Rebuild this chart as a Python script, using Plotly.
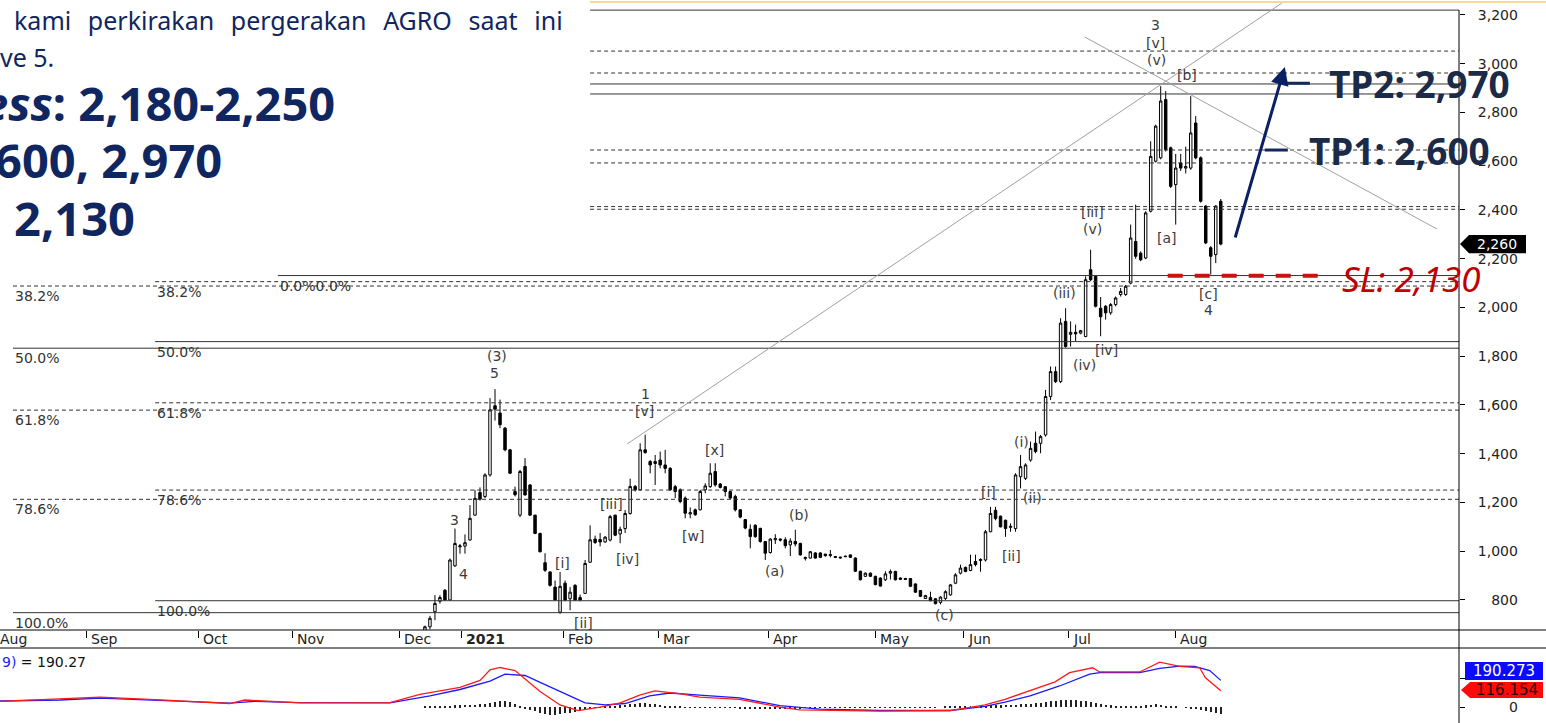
import plotly.graph_objects as go

# ---------------- data ----------------
# trading-day index (0 = first visible candle, early Dec 2020)
opens = [650,690,752,795,840,800,940,1018,1021,1046,1148,1241,1224,1313,1597,1567,1505,1416,1245,1148,
         1348,1272,1148,1073,953,915,853,750,869,805,860,810,827,955,1050,1048,1038,1046,1148,1071,
         1093,1155,1266,1252,1416,1368,1360,1374,1354,1340,1265,1252,1218,1153,1170,1170,1252,1265,1327,1276,
         1265,1245,1225,1170,1130,1090,1107,1094,1040,995,1047,1050,1047,1026,1040,1032,970,972,993,993,
         988,982,978,976,980,985,972,918,897,910,897,890,883,910,917,890,888,888,866,839,
         806,810,805,790,806,821,869,910,934,921,958,962,964,1080,1168,1144,1127,1098,1093,1306,
         1299,1374,1443,1443,1477,1635,1737,1696,1943,1890,1898,1895,1881,2155,2128,1997,2005,1978,2012,2053,
         2053,2100,2271,2223,2203,2395,2600,2614,2853,2655,2504,2593,2572,2572,2757,2614,2416,2245,2217,2436]
highs = [695,735,820,820,845,970,1093,1030,1069,1189,1252,1262,1320,1628,1665,1622,1510,1420,1265,1334,
         1382,1275,1150,1076,992,918,880,915,880,853,865,822,964,1106,1064,1075,1062,1149,1150,1101,
         1169,1298,1272,1443,1478,1374,1395,1409,1416,1345,1272,1258,1225,1180,1175,1252,1279,1361,1361,1280,
         1267,1248,1232,1172,1132,1110,1110,1096,1042,1053,1070,1053,1057,1053,1088,1035,978,1001,996,996,
         990,1005,981,978,982,987,975,920,913,913,900,893,918,925,920,893,891,890,868,841,
         821,834,808,815,840,866,910,945,937,986,986,971,1087,1182,1182,1146,1130,1114,1320,1395,
         1361,1450,1491,1477,1662,1758,1758,1956,1997,1943,1930,1908,2128,2237,2132,2043,2010,2018,2045,2080,
         2092,2340,2422,2230,2395,2682,2750,2908,2888,2660,2630,2630,2660,2867,2785,2620,2420,2252,2420,2445]
lows = [640,680,717,785,798,798,936,990,990,1044,1146,1208,1218,1306,1536,1505,1410,1318,1225,1140,
        1228,1145,1070,995,915,855,798,743,795,758,797,795,825,953,1030,1020,1035,1040,1062,1033,
        1075,1150,1245,1250,1400,1320,1272,1340,1320,1248,1218,1197,1135,1135,1145,1168,1238,1260,1265,1258,
        1225,1215,1163,1135,1090,1012,1055,1035,964,990,1030,1040,1012,980,1020,982,962,970,970,972,
        978,975,973,970,976,972,915,880,895,895,860,855,878,884,880,882,882,853,829,812,
        804,795,782,782,800,818,865,905,914,918,938,916,958,1078,1127,1098,1059,1080,1080,1258,
        1292,1367,1402,1402,1470,1620,1690,1690,1835,1840,1860,1890,1878,2108,2000,1882,1950,1970,2005,2045,
        2048,2095,2200,2190,2198,2390,2595,2608,2640,2490,2340,2560,2550,2565,2608,2430,2260,2135,2182,2255]
closes = [690,725,786,810,800,964,1032,1022,1035,1135,1217,1214,1313,1580,1583,1519,1416,1320,1232,1327,
          1231,1148,1073,998,922,860,800,856,800,832,800,800,950,1047,1036,1038,1058,1142,1066,1090,
          1155,1266,1252,1416,1405,1354,1368,1354,1340,1252,1245,1204,1156,1158,1150,1245,1268,1320,1272,1262,
          1245,1218,1170,1140,1095,1060,1060,1040,992,1050,1052,1046,1023,1042,1030,985,974,998,972,975,
          982,986,975,973,978,975,918,883,910,897,863,857,907,917,883,885,885,856,832,815,
          818,797,785,812,834,862,903,931,917,945,945,966,1080,1155,1134,1100,1093,1102,1313,1347,
          1354,1422,1409,1470,1635,1737,1696,1936,1840,1898,1892,1905,2114,2114,2005,1962,1978,2012,2039,2066,
          2087,2285,2210,2196,2388,2620,2744,2847,2648,2497,2572,2572,2578,2716,2614,2436,2265,2210,2416,2260]
candle_day = list(range(len(closes)))

# MACD lines (sampled turning points) and histogram
macd_blue_day = [-84.9,-72.9,-64.9,-54.9,-39.0,-34.0,-25.0,-7.0,1.0,7.0,13.0,16.0,20.0,24.0,28.0,32.0,36.0,40.0,44.9,48.9,
                 54.9,62.9,70.9,78.9,90.9,104.9,111.9,115.9,120.9,126.8,132.8,134.8,142.8,146.8,150.8,153.8,156.8,159.0]
macd_blue = [43,50,64,50,28,40,32,30,80,125,185,235,225,160,95,30,15,25,80,100,
             85,65,10,-15,-25,-25,5,35,80,150,235,245,245,275,292,290,260,190]
macd_red_day = [-84.9,-72.9,-64.9,-54.9,-39.0,-36.0,-33.0,-25.0,-7.0,-1.0,7.0,11.0,13.0,15.0,18.0,23.0,27.0,30.6,35.0,39.0,
                42.9,45.9,50.9,54.9,62.9,70.9,74.9,90.9,104.9,111.9,115.9,120.9,125.9,128.8,133.4,134.8,142.8,146.8,150.8,154.8,
                155.9,159.0]
macd_red = [40,55,70,55,25,50,45,30,32,90,140,190,265,282,260,110,15,-25,0,30,
            85,115,95,70,55,0,-20,-30,-25,15,55,120,180,245,280,250,250,320,290,280,
            210,116]
macd_hist = [3,4,5,6,8,10,12,14,15,17, 18,20,24,28,34,42,45,35,20,5,
             -10,-20,-30,-40,-48,-55,-55,-50,-45,-40, -35,-28,-20,-12,-6,-2,2,6,10,14,
             18,22,25,27,28,25,20,15,10,6, 3,1,-1,-3,-4,-5,-5,-6,-6,-6,
             -6,-7,-7,-8,-8,-8,-9,-9,-9,-9, -9,-9,-9,-8,-8,-8,-7,-7,-6,-6,
             -5,-5,-5,-4,-4,-4,-4,-3,-3,-3, -3,-3,-3,-3,-2,-2,-2,-2,-2,-2,
             -2,-1,-1,0,1,2,3,4,5,6, 8,9,10,12,13,14,15,16,18,20,
             22,25,28,32,36,40,44,48,50,52, 50,46,42,36,30,25,18,12,8,5,
             3,4,6,10,14,18,20,16,10,6, 3,0,-5,-10,-15,-22,-30,-38,-45,-52]

# axis labels
month_labels = ["Aug","Sep","Oct","Nov","Dec","2021","Feb","Mar","Apr","May","Jun","Jul","Aug"]
month_day = [-85.8,-67.7,-45.3,-26.4,-5.0,7.4,27.6,46.7,68.7,90.1,107.7,128.6,150.0]
price_ticks = [800,1000,1200,1400,1600,1800,2000,2200,2400,2600,2800,3000,3200]

# horizontal levels: value, start day, dashed?
level_values = [3220,3052,2962,2917,2876,2646,2593,2414,2403,2131,2106,2088,1860,1833,1609,1579,1251,1213,797,748]
level_start = [33.0,33.0,33.0,33.0,33.0,33.0,33.0,33.0,33.0,-29.4,-53.9,-82.3,-53.9,-82.3,-53.9,-82.3,-53.9,-82.3,-53.9,-82.3]
level_dashed = [0,1,1,0,0,1,1,1,1,0,1,1,0,0,1,1,1,1,0,0]

# fibonacci labels
fib_text = ["38.2%","38.2%","0.0%0.0%","50.0%","50.0%","61.8%","61.8%","78.6%","78.6%","100.0%","100.0%"]
fib_day = [-82.3,-53.9,-29.4,-82.3,-53.9,-82.3,-53.9,-82.3,-53.9,-82.3,-53.9]
fib_level = [2088,2106,2131,1833,1860,1579,1609,1213,1251,748,797]

# Elliott wave labels
ew_text = ["(3)","5","3","4","[i]","[ii]","[iii]","[iv]","1","[v]","[w]","[x]","(a)","(b)","(c)",
           "[i]","(ii)","[ii]","(i)","(iii)","(iv)","[iv]","[iii]","(v)","3","[v]","(v)","[b]","[a]","[c]","4"]
ew_day = [14.4,13.8,6.0,7.8,27.4,31.6,37.2,40.4,44.1,43.9,53.5,57.9,69.9,74.7,103.9,
          112.5,121.3,117.1,119.1,127.8,131.8,136.2,133.4,133.4,146.0,146.0,146.2,152.2,148.2,156.6,156.6]
ew_price = [1801,1731,1128,907,952,706,1194,968,1645,1575,1063,1415,919,1149,738,
            1243,1218,981,1448,2059,1764,1826,2392,2322,3159,3085,3015,2954,2285,2055,1990]

last_price = 2260
tp1, tp2, sl = 2600, 2970, 2130
macd_val, signal_val = 190.273, 116.154

# ---------------- figure ----------------
W, H = 1546, 723
PLOT_W = 1459
XR = [-84.9, 206.6]
def px(p):  # pixel -> paper x
    return p / PLOT_W
def py(p):  # pixel -> paper y
    return (H - p) / H

NAVY = "#0f2660"
LBL = "#3c3c3c"
SANS = "DejaVu Sans, Verdana"
AXF = dict(family=SANS, size=14, color="#222")

fig = go.Figure()
fig.add_trace(go.Candlestick(
    x=candle_day, open=opens, high=highs, low=lows, close=closes,
    increasing=dict(line=dict(color="black", width=1), fillcolor="white"),
    decreasing=dict(line=dict(color="black", width=1), fillcolor="black"),
    whiskerwidth=0, hoverinfo="skip", xaxis="x", yaxis="y"))

fig.add_trace(go.Bar(x=candle_day, y=macd_hist, width=0.2, marker=dict(color="#222", line=dict(width=0)),
                     xaxis="x2", yaxis="y2", hoverinfo="skip"))
fig.add_trace(go.Scatter(x=macd_blue_day, y=macd_blue, mode="lines", line=dict(color="#1a1aff", width=1.3),
                         xaxis="x2", yaxis="y2", hoverinfo="skip"))
fig.add_trace(go.Scatter(x=macd_red_day, y=macd_red, mode="lines", line=dict(color="#ff1a1a", width=1.3),
                         xaxis="x2", yaxis="y2", hoverinfo="skip"))

shapes = []
# horizontal levels
for v, s, d in zip(level_values, level_start, level_dashed):
    shapes.append(dict(type="line", xref="x", yref="y", x0=s, x1=XR[1], y0=v, y1=v,
                       line=dict(color="#333", width=1, dash="4px,3px" if d else "solid")))
# diagonal trend lines
shapes.append(dict(type="line", xref="x", yref="y", x0=40.4, y0=1440, x1=171.2, y1=3249,
                   line=dict(color="#a0a0a0", width=1)))
shapes.append(dict(type="line", xref="x", yref="y", x0=131.8, y0=3110, x1=202.2, y1=2322,
                   line=dict(color="#a0a0a0", width=1)))
# SL dashed red line
shapes.append(dict(type="line", xref="x", yref="y", x0=148.4, x1=179.8, y0=sl, y1=sl,
                   line=dict(color="#cc1111", width=4, dash="15px,12px")))
# TP ticks
shapes.append(dict(type="line", xref="x", yref="y", x0=172.2, x1=176.8, y0=2920, y1=2920,
                   line=dict(color="#14285a", width=3)))
shapes.append(dict(type="line", xref="x", yref="y", x0=167.8, x1=172.4, y0=2646, y1=2646,
                   line=dict(color="#14285a", width=3)))
# frame lines
shapes.append(dict(type="line", xref="paper", yref="paper", x0=1, x1=1, y0=0, y1=py(10),
                   line=dict(color="black", width=1)))
shapes.append(dict(type="line", xref="paper", yref="paper", x0=0, x1=W / PLOT_W, y0=py(630), y1=py(630),
                   line=dict(color="black", width=1)))
shapes.append(dict(type="line", xref="paper", yref="paper", x0=0, x1=W / PLOT_W, y0=py(648), y1=py(648),
                   line=dict(color="black", width=1)))
shapes.append(dict(type="line", xref="paper", yref="paper", x0=px(590), x1=W / PLOT_W, y0=py(2), y1=py(2),
                   line=dict(color="#f6dc92", width=2)))
# last price tag
shapes.append(dict(type="path", xref="paper", yref="y",
                   path=f"M {px(1460)},{last_price} L {px(1469)},{last_price+37} L {px(1526)},{last_price+37} "
                        f"L {px(1526)},{last_price-37} L {px(1469)},{last_price-37} Z",
                   fillcolor="black", line=dict(width=0)))
# MACD value tags
shapes.append(dict(type="rect", xref="paper", yref="y2", x0=px(1465), x1=px(1543), y0=193, y1=321,
                   fillcolor="#0a0aff", line=dict(width=0)))
shapes.append(dict(type="path", xref="paper", yref="y2",
                   path=f"M {px(1461)},121 L {px(1470)},179 L {px(1543)},179 L {px(1543)},64 L {px(1470)},64 Z",
                   fillcolor="#ff0a0a", line=dict(width=0)))

ann = []
# month labels
for lab, d in zip(month_labels, month_day):
    a = dict(y=py(639), yref="paper", text=("<b>%s</b>" % lab) if lab == "2021" else lab,
             showarrow=False, xanchor="left", yanchor="middle", font=AXF)
    if d < XR[0]:
        a.update(x=0, xref="paper", xshift=-2)
    else:
        a.update(x=d + 0.5, xref="x")
    ann.append(a)
# fib labels
for t, d, v in zip(fib_text, fib_day, fib_level):
    ann.append(dict(x=d, y=v, xref="x", yref="y", text=t, showarrow=False, xanchor="left", yanchor="top",
                    yshift=0, font=dict(family=SANS, size=14, color="#333")))
# wave labels
for t, d, v in zip(ew_text, ew_day, ew_price):
    ann.append(dict(x=d, y=v, xref="x", yref="y", text=t, showarrow=False, xanchor="center", yanchor="middle",
                    font=dict(family=SANS, size=14, color=LBL)))
# arrow
ann.append(dict(x=171.8, y=2987, ax=161.8, ay=2281, xref="x", yref="y", axref="x", ayref="y",
                text="", showarrow=True, arrowhead=2, arrowsize=1.2, arrowwidth=3, arrowcolor="#0b2063"))
# TP / SL texts
ann.append(dict(x=180.2, y=2920, xref="x", yref="y", text="<b>TP2: 2,970</b>", showarrow=False,
                xanchor="left", yanchor="middle", font=dict(family="Noto Sans", size=37, color="#1b2a47")))
ann.append(dict(x=176.2, y=2646, xref="x", yref="y", text="<b>TP1: 2,600</b>", showarrow=False,
                xanchor="left", yanchor="middle", font=dict(family="Noto Sans", size=37, color="#1b2a47")))
ann.append(dict(x=182.8, y=2121, xref="x", yref="y", text="<i>SL: 2,130</i>", showarrow=False,
                xanchor="left", yanchor="middle", font=dict(family="Noto Sans", size=35, color="#c00000")))
# tags text
ann.append(dict(x=px(1497), y=last_price, xref="paper", yref="y", text="2,260", showarrow=False,
                xanchor="center", yanchor="middle", font=dict(family=SANS, size=14, color="white")))
ann.append(dict(x=px(1504), y=257, xref="paper", yref="y2", text="190.273", showarrow=False,
                xanchor="center", yanchor="middle", font=dict(family=SANS, size=15, color="white")))
ann.append(dict(x=px(1507), y=121, xref="paper", yref="y2", text="116.154", showarrow=False,
                xanchor="center", yanchor="middle", font=dict(family=SANS, size=15, color="#2a0000")))
# MACD legend
ann.append(dict(x=0, y=py(662), xref="paper", yref="paper", xanchor="left", yanchor="middle", showarrow=False,
                text='<span style="color:#1a1aff">9)</span> = 190.27',
                font=dict(family=SANS, size=14, color="#111")))
# overlay commentary text (slide fragment)
GAP = "\u2002\u2009"
ann.append(dict(x=px(12), y=py(20), xref="paper", yref="paper", xanchor="left", yanchor="middle", showarrow=False,
                text=GAP.join(["kami", "perkirakan", "pergerakan", "AGRO", "saat", "ini"]),
                font=dict(family="Noto Sans", size=25, color=NAVY)))
ann.append(dict(x=px(-2), y=py(57), xref="paper", yref="paper", xanchor="left", yanchor="middle", showarrow=False,
                text="ve 5.", font=dict(family="Noto Sans", size=25, color=NAVY)))
ann.append(dict(x=px(-20), y=py(103), xref="paper", yref="paper", xanchor="left", yanchor="middle", showarrow=False,
                text="<b><i>ess</i>: 2,180-2,250</b>", font=dict(family="Noto Sans", size=47, color=NAVY)))
ann.append(dict(x=px(-7), y=py(160), xref="paper", yref="paper", xanchor="left", yanchor="middle", showarrow=False,
                text="<b>600, 2,970</b>", font=dict(family="Noto Sans", size=47, color=NAVY)))
ann.append(dict(x=px(12), y=py(218), xref="paper", yref="paper", xanchor="left", yanchor="middle", showarrow=False,
                text="<b>2,130</b>", font=dict(family="Noto Sans", size=47, color=NAVY)))

def pad(v):
    s = f"{v:,}"
    return ("\u2007\u2008" + s) if v < 1000 else s

fig.update_layout(
    width=W, height=H, margin=dict(l=0, r=W - PLOT_W, t=0, b=0),
    paper_bgcolor="white", plot_bgcolor="white", showlegend=False,
    xaxis=dict(domain=[0, 1], range=XR, anchor="y", showline=False, showgrid=False, zeroline=False,
               ticks="outside", tickvals=month_day, ticklen=7, tickcolor="black", showticklabels=False,
               rangeslider=dict(visible=False), fixedrange=True),
    yaxis=dict(domain=[py(630), 1], range=[676.9, 3261.5], side="right", showline=False, showgrid=False,
               zeroline=False, ticks="outside", ticklen=5, tickcolor="black", tickvals=price_ticks,
               ticktext=[pad(v) for v in price_ticks], tickfont=AXF, ticklabelstandoff=10, fixedrange=True),
    xaxis2=dict(domain=[0, 1], range=XR, anchor="y2", matches="x", showline=False, showgrid=False,
                zeroline=False, showticklabels=False, ticks="", fixedrange=True),
    yaxis2=dict(domain=[0, py(648)], range=[-114, 421], side="right", showline=False, showgrid=False,
                zeroline=False, ticks="outside", ticklen=5, tickcolor="black", tickvals=[0, 200],
                ticktext=["\u2007\u2007\u2008\u20070", ""], tickfont=AXF, ticklabelstandoff=10, fixedrange=True),
    shapes=shapes, annotations=ann, bargap=0,
)

fig.write_html("out.html")
